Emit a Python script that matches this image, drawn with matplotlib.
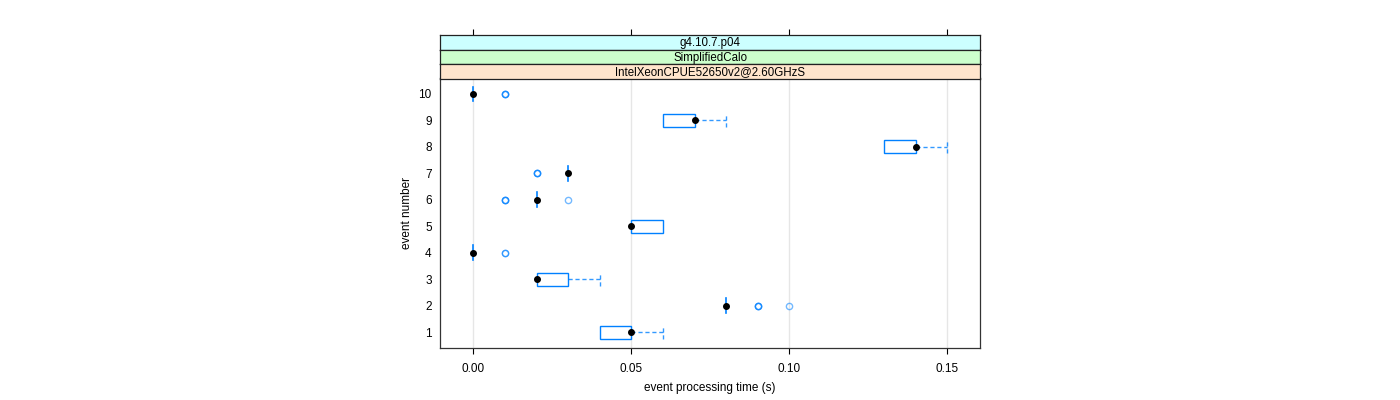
import matplotlib
matplotlib.use("Agg")
import matplotlib.pyplot as plt

plt.rcParams['font.family'] = ['Liberation Sans', 'DejaVu Sans']

# one row per event: box limits, median, whisker ends, outliers
events = [1, 2, 3, 4, 5, 6, 7, 8, 9, 10]
q1 = [0.04, 0.08, 0.02, 0.00, 0.05, 0.02, 0.03, 0.13, 0.06, 0.00]
med = [0.05, 0.08, 0.02, 0.00, 0.05, 0.02, 0.03, 0.14, 0.07, 0.00]
q3 = [0.05, 0.08, 0.03, 0.00, 0.06, 0.02, 0.03, 0.14, 0.07, 0.00]
wlo = [0.04, 0.08, 0.02, 0.00, 0.05, 0.02, 0.03, 0.13, 0.06, 0.00]
whi = [0.06, 0.08, 0.04, 0.00, 0.06, 0.02, 0.03, 0.15, 0.08, 0.00]
outliers = [
    [],
    [0.09, 0.09, 0.09, 0.10],
    [],
    [0.01, 0.01],
    [],
    [0.01, 0.01, 0.01, 0.03],
    [0.02, 0.02, 0.02],
    [],
    [],
    [0.01, 0.01, 0.01],
]
strips = ["g4.10.7.p04", "SimplifiedCalo", "IntelXeonCPUE52650v2@2.60GHzS"]
strip_cols = ["#ccffff", "#ccffcc", "#ffe5cc"]
xticks = [0.00, 0.05, 0.10, 0.15]
xlim = (-0.0106, 0.1604)

blue = "#0080ff"
fig = plt.figure(figsize=(14, 4), dpi=100)
ax = fig.add_axes([440 / 1400, 52 / 400, 540 / 1400, 270 / 400])

bh = 0.25
dash = (0, (3, 2))
for ev, a, m, b, lo, hi, outs in zip(events, q1, med, q3, wlo, whi, outliers):
    if b > a:
        ax.add_patch(plt.Rectangle((a, ev - bh), b - a, 2 * bh, fill=False,
                                   edgecolor=blue, lw=1.0, zorder=3))
    else:
        ax.plot([a, a], [ev - bh * 1.1, ev + bh * 1.1], color=blue, lw=1.2, zorder=3)
    if hi > b:
        ax.plot([b, hi], [ev, ev], color=blue, lw=1.0, ls=dash, alpha=0.8, zorder=2)
        ax.plot([hi, hi], [ev - bh, ev + bh], color=blue, lw=1.0, ls=dash, alpha=0.8, zorder=2)
    if a > lo:
        ax.plot([lo, a], [ev, ev], color=blue, lw=1.0, ls=dash, alpha=0.8, zorder=2)
        ax.plot([lo, lo], [ev - bh, ev + bh], color=blue, lw=1.0, ls=dash, alpha=0.8, zorder=2)
    for o in outs:
        ax.plot(o, ev, 'o', ms=4.5, mfc='none', mec=blue, mew=1.0, alpha=0.55, zorder=3)
    ax.plot(m, ev, 'o', ms=4, color='black', zorder=4)

for t in xticks:
    ax.axvline(t, color="#e6e6e6", lw=1.0, zorder=0)

ax.set_xlim(*xlim)
ax.set_ylim(0.4, 10.6)
ax.set_xticks(xticks)
ax.set_xticklabels([f"{t:.2f}" for t in xticks])
ax.set_yticks(events)
ax.tick_params(axis='x', direction='out', length=4, width=0.8, labelsize=8.5, pad=7)
ax.tick_params(axis='y', length=0, labelsize=8.5, pad=6)
for s in ax.spines.values():
    s.set_linewidth(0.9)
    s.set_color("#333333")
ax.set_xlabel("event processing time (s)", fontsize=8.5, labelpad=5)
ax.set_ylabel("event number", fontsize=8.5, labelpad=4)

# strips on top, outermost factor first
sh = 14.6
for i, (lab, col) in enumerate(zip(strips, strip_cols)):
    top = 35 + i * sh
    sax = fig.add_axes([440 / 1400, 1 - (top + sh) / 400, 540 / 1400, sh / 400])
    sax.set_facecolor(col)
    sax.set_xlim(*xlim)
    sax.set_yticks([])
    sax.text(0.5, 0.45, lab, transform=sax.transAxes, ha='center', va='center', fontsize=8.3)
    for s in sax.spines.values():
        s.set_linewidth(0.9)
        s.set_color("#222222")
    if i == 0:
        sax.set_xticks(xticks)
        sax.tick_params(axis='x', bottom=False, labelbottom=False, top=True,
                        direction='out', length=4, width=0.8)
    else:
        sax.set_xticks([])

fig.savefig("out.png", dpi=100)
